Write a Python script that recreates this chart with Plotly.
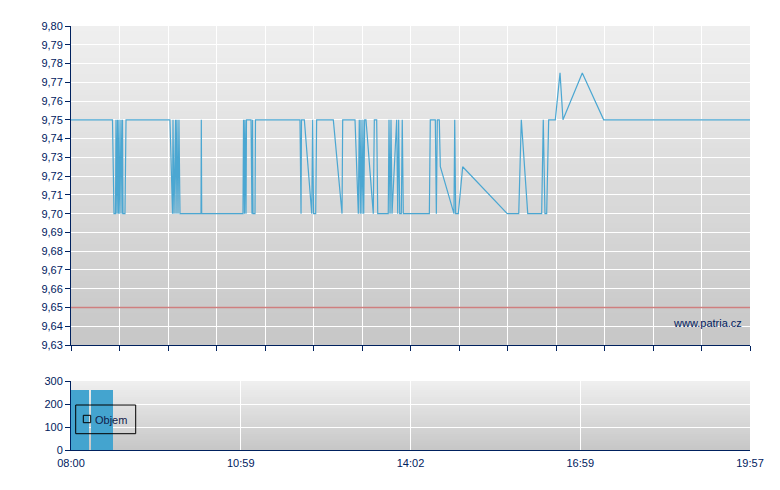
import plotly.graph_objects as go

# minutes after 08:00 and price
times = [0, 43.8, 45.4, 47.0, 47.5, 48.6, 49.1, 50.2, 50.7, 51.7, 52.8, 53.9, 54.4, 54.9, 57.0, 58.1,
         104.5, 107.2, 107.7, 108.8, 110.4, 110.9, 111.9, 113.0, 114.0, 115.1, 137.3, 137.6, 138.0,
         181.6, 182.2, 183.2, 183.7, 184.8, 185.3, 190.1, 191.1, 191.7, 192.2, 194.3, 194.8,
         241.8, 242.9, 243.4, 246.4, 254.2, 255.2, 256.1, 258.4, 259.4, 277.0, 286.2, 286.9,
         299.9, 303.4, 304.4, 305.5, 306.2, 307.3, 308.3, 309.1, 310.1, 311.5, 319.2, 320.3,
         322.8, 323.9, 335.0, 335.8, 336.9, 337.9, 339.0, 343.9, 345.0, 346.0, 347.1, 348.8,
         349.8, 350.9, 378.4, 379.4, 384.7, 385.8, 386.8, 388.9, 390.0, 404.4, 405.2, 406.2,
         409.0, 413.6, 460.7, 472.8, 475.5, 482.3, 497.0, 498.7, 500.5, 502.3, 504.4, 511.4,
         516.4, 519.5, 539.9, 562.5, 717]
prices = [9.75, 9.75, 9.70, 9.70, 9.75, 9.70, 9.75, 9.70, 9.75, 9.70, 9.75, 9.70, 9.75, 9.70, 9.70, 9.75,
          9.75, 9.70, 9.75, 9.70, 9.75, 9.70, 9.75, 9.70, 9.75, 9.70, 9.70, 9.75, 9.70,
          9.70, 9.75, 9.70, 9.75, 9.70, 9.75, 9.75, 9.70, 9.75, 9.70, 9.70, 9.75,
          9.75, 9.70, 9.75, 9.75, 9.70, 9.75, 9.70, 9.70, 9.75, 9.75, 9.70, 9.75,
          9.75, 9.70, 9.75, 9.70, 9.75, 9.70, 9.75, 9.70, 9.75, 9.75, 9.70, 9.75,
          9.75, 9.70, 9.70, 9.75, 9.70, 9.75, 9.70, 9.75, 9.70, 9.75, 9.70, 9.70,
          9.75, 9.70, 9.70, 9.75, 9.75, 9.70, 9.75, 9.75, 9.725, 9.70, 9.75, 9.70,
          9.70, 9.725, 9.70, 9.70, 9.75, 9.70, 9.70, 9.75, 9.70, 9.70, 9.75, 9.75,
          9.775, 9.75, 9.775, 9.75, 9.75]

ref_times = [0, 717]
ref_prices = [9.65, 9.65]

vol_times = [0.5, 1.5, 2.5, 3.5, 4.5, 5.5, 6.5, 7.5, 8.5, 9.5, 10.5, 11.5, 12.5, 13.5, 14.4,
             16.6, 17.5, 18.4,
             22.5, 23.5, 24.5, 25.5, 26.5, 27.5, 28.5, 29.5, 30.5, 31.5, 32.5, 33.5, 34.5, 35.5,
             36.5, 37.5, 38.5, 39.3,
             41.4, 42.4, 43.6]
vol_values = [262] * len(vol_times)

price_ticks = [9.63, 9.64, 9.65, 9.66, 9.67, 9.68, 9.69, 9.70, 9.71, 9.72, 9.73, 9.74, 9.75,
               9.76, 9.77, 9.78, 9.79, 9.80]
vol_ticks = [0, 100, 200, 300]
time_labels = ["08:00", "10:59", "14:02", "16:59", "19:57"]
end_minute = 717

NAVY = "#00215e"
W, H = 780, 490
LEFT, RIGHT = 71, 750
FONT = "Liberation Sans"


def gradient(xref, yref, top, bottom, n=60):
    """stacked bands, painted top down, for the grey background"""
    out = []
    for i in range(n):
        t = i / (n - 1)
        c = [round(a + (b - a) * t) for a, b in zip(top, bottom)]
        out.append(dict(type="rect", xref=xref, yref=yref, x0=0, x1=1, y0=0, y1=1 - i / n,
                        layer="below", line_width=0, fillcolor="rgb(%d,%d,%d)" % tuple(c)))
    return out


fig = go.Figure()
fig.add_trace(go.Scatter(x=ref_times, y=ref_prices, mode="lines", xaxis="x", yaxis="y",
                         line=dict(color="#cf7f7f", width=1.5), showlegend=False))
fig.add_trace(go.Scatter(x=times, y=prices, mode="lines", xaxis="x", yaxis="y",
                         line=dict(color="#4ba7d2", width=1.2), showlegend=False))
fig.add_trace(go.Bar(x=vol_times, y=vol_values, xaxis="x2", yaxis="y2", width=1.25,
                     marker=dict(color="#44a4cf", line_width=0), showlegend=False))

shapes = gradient("x domain", "y domain", (239, 239, 239), (199, 199, 199))
shapes += gradient("x2 domain", "y2 domain", (239, 239, 239), (199, 199, 199), 30)
# legend box of the volume panel
shapes.append(dict(type="rect", xref="paper", yref="paper", x0=75.7 / W, x1=135.7 / W,
                   y0=1 - 433.7 / H, y1=1 - 405 / H, line=dict(color="black", width=1)))
shapes.append(dict(type="rect", xref="paper", yref="paper", x0=83.3 / W, x1=90.7 / W,
                   y0=1 - 422.7 / H, y1=1 - 415.3 / H, line=dict(color="black", width=1)))

fig.update_layout(
    width=W, height=H, autosize=False,
    margin=dict(l=0, r=0, t=0, b=0, autoexpand=False),
    paper_bgcolor="white", plot_bgcolor="rgba(0,0,0,0)",
    separators=", ",
    font=dict(family=FONT, size=11, color=NAVY),
    shapes=shapes,
    bargap=0,
    annotations=[
        dict(text="www.patria.cz", xref="paper", yref="paper", x=671 / W, y=1 - 323 / H,
             xanchor="left", yanchor="middle", showarrow=False, font=dict(size=11, color=NAVY)),
        dict(text="Objem", xref="paper", yref="paper", x=92.5 / W, y=1 - 420 / H,
             xanchor="left", yanchor="middle", showarrow=False, font=dict(size=11, color="#10204a")),
    ],
    xaxis=dict(domain=[LEFT / W, RIGHT / W], range=[0, end_minute], anchor="y", automargin=False,
               tickmode="array", tickvals=[end_minute * i / 14 for i in range(15)], showticklabels=False,
               ticks="outside", ticklen=5, tickcolor=NAVY, tickwidth=1,
               showgrid=True, gridcolor="white", gridwidth=1.2, zeroline=False,
               showline=True, linecolor=NAVY, linewidth=1),
    yaxis=dict(domain=[1 - 345 / H, 1 - 26 / H], range=[9.63, 9.80], anchor="x", automargin=False,
               tickmode="array", tickvals=price_ticks, tickformat=".2f",
               ticks="outside", ticklen=5, tickcolor=NAVY, tickwidth=1,
               showgrid=True, gridcolor="white", gridwidth=1.2, zeroline=False,
               showline=True, linecolor=NAVY, linewidth=1),
    xaxis2=dict(domain=[LEFT / W, RIGHT / W], range=[0, end_minute], anchor="y2", automargin=False,
                tickmode="array", tickvals=[end_minute * i / 4 for i in range(5)], ticktext=time_labels,
                ticks="outside", ticklen=3, tickcolor="rgba(0,0,0,0)",
                showgrid=True, gridcolor="white", gridwidth=1.2, zeroline=False,
                showline=True, linecolor=NAVY, linewidth=1),
    yaxis2=dict(domain=[1 - 450 / H, 1 - 381 / H], range=[0, 300], anchor="x2", automargin=False,
                tickmode="array", tickvals=vol_ticks,
                ticks="outside", ticklen=5, tickcolor=NAVY, tickwidth=1,
                showgrid=True, gridcolor="white", gridwidth=1.2, zeroline=False,
                showline=True, linecolor=NAVY, linewidth=1),
)

# page margin would shift the whole chart by 8px
fig.write_html("out.html", config={"displayModeBar": False},
               post_script="document.body.style.margin='0';")
